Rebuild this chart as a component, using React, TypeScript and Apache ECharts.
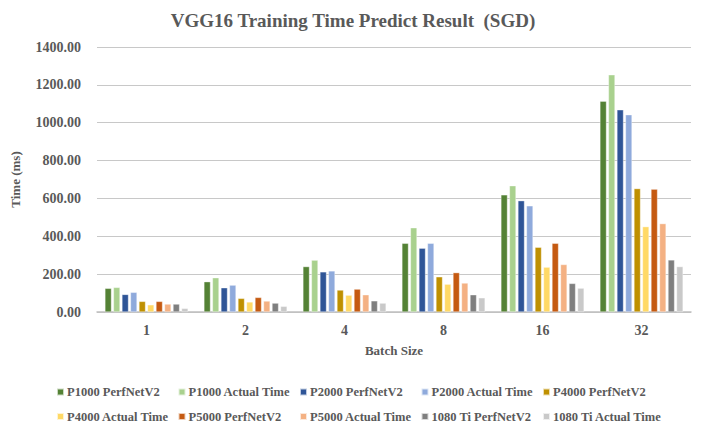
import React, { useEffect, useRef } from "react";
import * as echarts from "echarts";

const batchSizes = ["1", "2", "4", "8", "16", "32"];
const seriesNames = [
  "P1000 PerfNetV2",
  "P1000 Actual Time",
  "P2000 PerfNetV2",
  "P2000 Actual Time",
  "P4000 PerfNetV2",
  "P4000 Actual Time",
  "P5000 PerfNetV2",
  "P5000 Actual Time",
  "1080 Ti PerfNetV2",
  "1080 Ti Actual Time",
];
const p1000Perf = [125, 160, 240, 363, 619, 1114];
const p1000Actual = [130, 181, 274, 445, 667, 1253];
const p2000Perf = [93, 128, 212, 337, 588, 1068];
const p2000Actual = [104, 142, 217, 363, 561, 1042];
const p4000Perf = [56, 72, 116, 186, 342, 652];
const p4000Actual = [38, 53, 89, 147, 237, 451];
const p5000Perf = [56, 77, 121, 208, 363, 649];
const p5000Actual = [42, 58, 91, 153, 251, 467];
const ti1080Perf = [42, 47, 59, 91, 151, 275];
const ti1080Actual = [19, 30, 47, 75, 126, 240];

const seriesValues = [
  p1000Perf,
  p1000Actual,
  p2000Perf,
  p2000Actual,
  p4000Perf,
  p4000Actual,
  p5000Perf,
  p5000Actual,
  ti1080Perf,
  ti1080Actual,
];
const colors = [
  "#548235",
  "#A9D18E",
  "#2F5597",
  "#8FAADC",
  "#BF9000",
  "#FFD966",
  "#C55A11",
  "#F4B183",
  "#7F7F7F",
  "#C9C9C9",
];

const FONT = "Liberation Serif";
const TEXT = "#595959";

export default function App() {
  const ref = useRef<HTMLDivElement>(null);
  useEffect(() => {
    document.body.style.margin = "0";
    if (!ref.current) return;
    const chart = echarts.init(ref.current, null, { renderer: "svg" });
    const legendX = [56, 177.5, 299, 420.5, 542];
    const legendY = [385.5, 410];
    const legends = seriesNames.map((n, i) => ({
      data: [n],
      left: legendX[i % 5],
      top: legendY[Math.floor(i / 5)],
      itemWidth: 7,
      itemHeight: 7,
      padding: 0,
      icon: "rect",
      textStyle: {
        fontFamily: FONT,
        fontWeight: "bold",
        fontSize: 12.5,
        color: TEXT,
        padding: [0, 0, 0, -2],
      },
    }));
    chart.setOption({
      animation: false,
      color: colors,
      title: {
        text: "VGG16 Training Time Predict Result  (SGD)",
        left: "center",
        top: 6,
        textStyle: {
          fontFamily: FONT,
          fontWeight: "bold",
          fontSize: 19,
          color: TEXT,
        },
      },
      legend: legends,
      grid: { left: 97, right: 15, top: 47, bottom: 117 },
      xAxis: {
        type: "category",
        data: batchSizes,
        name: "Batch Size",
        nameLocation: "middle",
        nameGap: 32,
        nameTextStyle: {
          fontFamily: FONT,
          fontWeight: "bold",
          fontSize: 13,
          color: TEXT,
        },
        axisTick: { show: false },
        axisLine: { lineStyle: { color: "#BFBFBF", width: 1.5 } },
        axisLabel: {
          fontFamily: FONT,
          fontWeight: "bold",
          fontSize: 14,
          color: TEXT,
          margin: 11,
        },
      },
      yAxis: {
        type: "value",
        min: 0,
        max: 1400,
        interval: 200,
        name: "Time (ms)",
        nameLocation: "middle",
        nameGap: 75,
        nameTextStyle: {
          fontFamily: FONT,
          fontWeight: "bold",
          fontSize: 13,
          color: TEXT,
        },
        axisLine: { show: false },
        axisTick: { show: false },
        splitLine: { lineStyle: { color: "#C8C8C8", width: 1 } },
        axisLabel: {
          fontFamily: FONT,
          fontWeight: "bold",
          fontSize: 14,
          color: TEXT,
          margin: 16,
          formatter: (v: number) => v.toFixed(2),
        },
      },
      series: seriesNames.map((n, i) => ({
        name: n,
        type: "bar",
        data: seriesValues[i],
        barGap: "30%",
        barCategoryGap: "16%",
        itemStyle: {
          color: colors[i],
          borderColor: "rgba(255,255,255,0.7)",
          borderWidth: 0.5,
        },
      })),
    });
    return () => chart.dispose();
  }, []);
  return <div ref={ref} style={{ width: 706, height: 429 }} />;
}
